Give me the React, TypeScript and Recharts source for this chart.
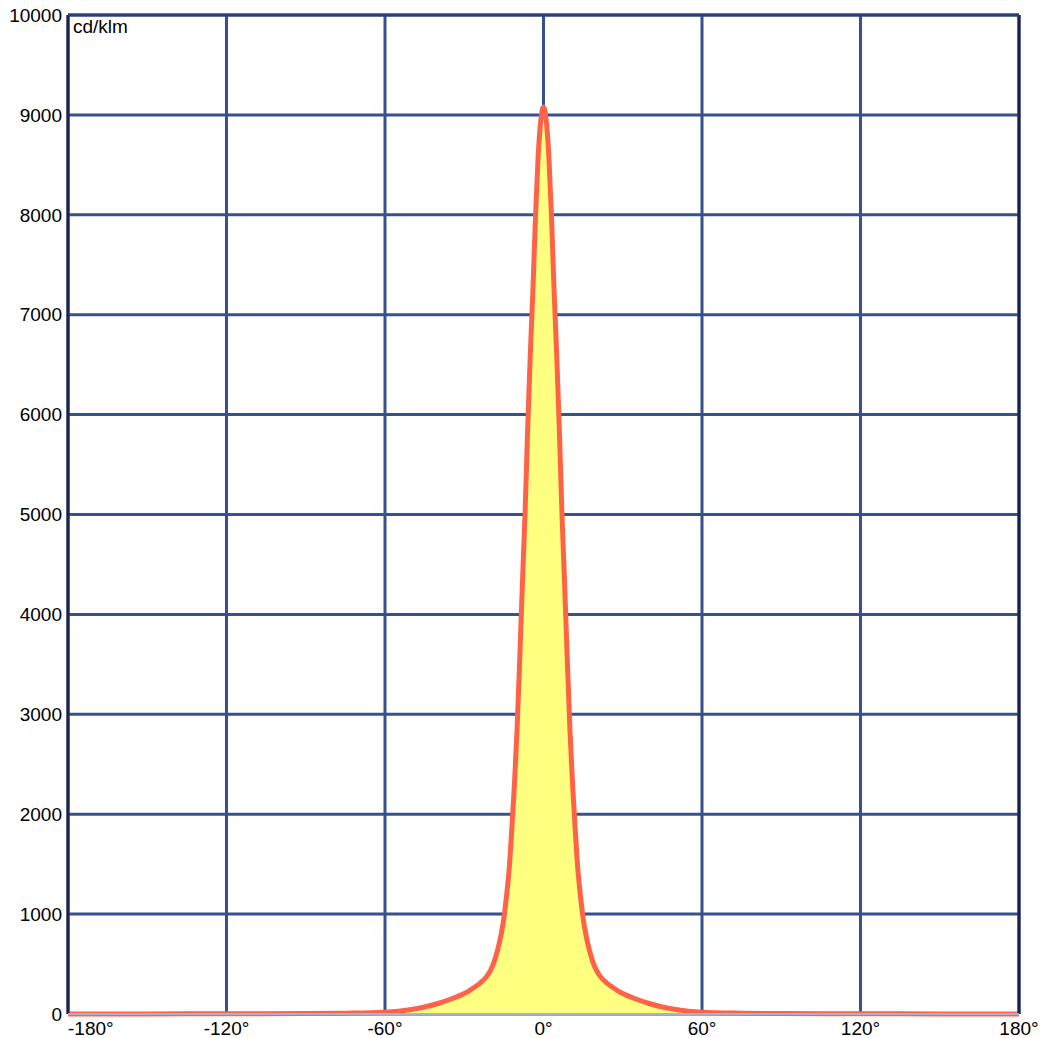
import React from 'react';
import {
  AreaChart,
  Area,
  XAxis,
  YAxis,
  CartesianGrid,
  ReferenceLine,
} from 'recharts';

// angles in degrees, intensity in cd/klm
const angles = [
  -180, -150, -120, -90, -75, -60, -50, -45, -40, -35, -30, -28, -26, -24, -22, -20,
  -19, -18, -17, -16, -15, -14, -13, -12, -11, -10, -9, -8, -7, -6, -5, -4, -3, -2, -1, 0,
  1, 2, 3, 4, 5, 6, 7, 8, 9, 10, 11, 12, 13, 14, 15, 16, 17, 18, 19,
  20, 22, 24, 26, 28, 30, 35, 40, 45, 50, 60, 75, 90, 120, 150, 180,
];
const intensity = [
  0, 1, 2, 4, 8, 18, 45, 70, 105, 150, 205, 235, 270, 310, 360, 440,
  500, 580, 680, 800, 960, 1180, 1450, 1850, 2300, 2850, 3550, 4300, 5000, 5850, 6600, 7250, 8000, 8600, 8950, 9080,
  8950, 8600, 8000, 7250, 6600, 5850, 5000, 4300, 3550, 2850, 2300, 1850, 1450, 1180, 960, 800, 680, 580, 500,
  440, 360, 310, 270, 235, 205, 150, 105, 70, 45, 18, 8, 4, 2, 1, 0,
];

const xTicks = [-180, -120, -60, 0, 60, 120, 180];
const yTicks = [0, 1000, 2000, 3000, 4000, 5000, 6000, 7000, 8000, 9000, 10000];
const unitLabel = 'cd/klm';

const data = angles.map((a, i) => ({ angle: a, value: intensity[i] }));

const GRID = '#37508e';
const BORDER = '#1b2445';
const FONT = '"Liberation Sans", Arial, sans-serif';

// first angle label starts at the left edge, the rest are centred on their tick
function AngleTick(props: any) {
  const { x, y, payload } = props;
  const first = payload.value === xTicks[0];
  return (
    <text
      x={x}
      y={y + 13}
      textAnchor={first ? 'start' : 'middle'}
      fontSize={19}
      fontFamily={FONT}
      fill="#000"
    >
      {`${payload.value}°`}
    </text>
  );
}

export default function App() {
  return (
    <div style={{ position: 'absolute', left: 0, top: 0, width: 1042, height: 1038, background: '#fff' }}>
      <AreaChart
        width={1042}
        height={1038}
        data={data}
        margin={{ top: 15, right: 23, left: 0, bottom: 0 }}
      >
        <CartesianGrid stroke={GRID} strokeWidth={3} />
        <XAxis
          dataKey="angle"
          type="number"
          domain={[-180, 180]}
          ticks={xTicks}
          tick={<AngleTick />}
          tickLine={false}
          axisLine={{ stroke: '#9fb4d8', strokeWidth: 2 }}
          height={24}
          interval={0}
        />
        <YAxis
          type="number"
          domain={[0, 10000]}
          ticks={yTicks}
          tick={{ fontSize: 19, fill: '#000', fontFamily: FONT }}
          tickLine={false}
          axisLine={false}
          width={68}
          tickMargin={0}
          interval={0}
        />
        <Area
          type="monotone"
          dataKey="value"
          stroke="#ff6347"
          strokeWidth={5}
          fill="#ffff80"
          fillOpacity={1}
          dot={false}
          isAnimationActive={false}
        />
        <ReferenceLine x={-180} stroke={BORDER} strokeWidth={3} />
        <ReferenceLine x={180} stroke={BORDER} strokeWidth={3} />
        <ReferenceLine y={10000} stroke="#2c3f72" strokeWidth={3} />
      </AreaChart>
      <div
        style={{
          position: 'absolute',
          left: 73,
          top: 16,
          fontFamily: FONT,
          fontSize: 19,
          color: '#000',
        }}
      >
        {unitLabel}
      </div>
    </div>
  );
}
